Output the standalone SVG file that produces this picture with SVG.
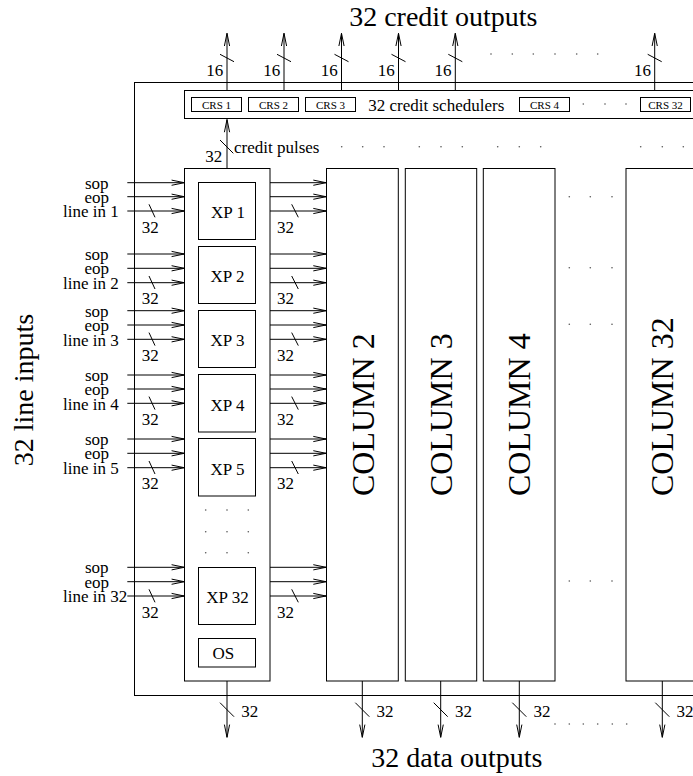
<svg xmlns="http://www.w3.org/2000/svg" width="693" height="776" viewBox="0 0 693 776" font-family="Liberation Serif, Tinos, DejaVu Serif, serif">
<style>
.box{fill:none;stroke:#000;stroke-width:1}
.ln{fill:none;stroke:#000;stroke-width:1}
.arr{fill:none;stroke:#000;stroke-width:1;marker-end:url(#ah)}
text{font-family:'Liberation Serif','DejaVu Serif',serif;fill:#000}
.big{font-size:28px}
.col{font-size:32px}
.med{font-size:17px}
.sm{font-size:11px}
.dot{fill:#555}
</style>
<defs>
<marker id="ah" markerUnits="userSpaceOnUse" viewBox="-14 -4 15 8" refX="0" refY="0" markerWidth="15" markerHeight="8" orient="auto" overflow="visible">
<path d="M-12.7,-2.6 L0,0 L-12.7,2.6" fill="none" stroke="#000" stroke-width="1"/>
</marker>
</defs>
<rect width="693" height="776" fill="#fff"/>

<g id="switch">
<rect class="box" x="134.5" y="82.5" width="620" height="613"/>
</g>

<g id="credit-schedulers">
<rect class="box" x="184.5" y="90.5" width="560" height="28"/>
<text class="med" x="368.3" y="110.7">32 credit schedulers</text>
</g>
<g id="crs1"><rect class="box" x="191.5" y="97.5" width="50" height="14"/><text class="sm" x="216.5" y="108.5" text-anchor="middle">CRS 1</text></g>
<g id="crs2"><rect class="box" x="248.5" y="97.5" width="50" height="14"/><text class="sm" x="273.5" y="108.5" text-anchor="middle">CRS 2</text></g>
<g id="crs3"><rect class="box" x="305.5" y="97.5" width="50" height="14"/><text class="sm" x="330.5" y="108.5" text-anchor="middle">CRS 3</text></g>
<g id="crs4"><rect class="box" x="519.5" y="97.5" width="50" height="14"/><text class="sm" x="544.5" y="108.5" text-anchor="middle">CRS 4</text></g>
<g id="crs32"><rect class="box" x="640.5" y="97.5" width="50" height="14"/><text class="sm" x="665.5" y="108.5" text-anchor="middle">CRS 32</text></g>

<g id="xp-column">
<rect class="box" x="184.5" y="168.5" width="85.5" height="512.5"/>
</g>
<g id="xp1"><rect class="box" x="198.5" y="182.5" width="57" height="57"/><text class="med" x="228" y="218" text-anchor="middle">XP 1</text></g>
<g id="xp2"><rect class="box" x="198.5" y="246.5" width="57" height="57"/><text class="med" x="227.5" y="282" text-anchor="middle">XP 2</text></g>
<g id="xp3"><rect class="box" x="198.5" y="310.5" width="57" height="57"/><text class="med" x="227.5" y="346.3" text-anchor="middle">XP 3</text></g>
<g id="xp4"><rect class="box" x="198.5" y="374.5" width="57" height="57.5"/><text class="med" x="227.5" y="410.5" text-anchor="middle">XP 4</text></g>
<g id="xp5"><rect class="box" x="198.5" y="438.5" width="57" height="57.5"/><text class="med" x="227.5" y="474.5" text-anchor="middle">XP 5</text></g>
<g id="xp32"><rect class="box" x="198.5" y="567.5" width="57" height="57"/><text class="med" x="227.5" y="603" text-anchor="middle">XP 32</text></g>
<g id="os"><rect class="box" x="198.5" y="638.5" width="57" height="28.5"/><text class="med" x="223.3" y="659.3" text-anchor="middle">OS</text></g>

<g id="column2"><rect class="box" x="326.5" y="168.5" width="71.8" height="512.5"/><text class="col" transform="translate(373.5,496) rotate(-90)">COLUMN 2</text></g>
<g id="column3"><rect class="box" x="405.3" y="168.5" width="71.4" height="512.5"/><text class="col" transform="translate(452,496) rotate(-90)">COLUMN 3</text></g>
<g id="column4"><rect class="box" x="483.3" y="168.5" width="71.7" height="512.5"/><text class="col" transform="translate(530.2,496) rotate(-90)">COLUMN 4</text></g>
<g id="column32"><rect class="box" x="626" y="168.5" width="72.6" height="512.5"/><text class="col" transform="translate(673.3,496) rotate(-90)">COLUMN 32</text></g>

<g id="connectors">
<line class="arr" x1="227" y1="90" x2="227" y2="33.3"/>
<line class="arr" x1="284" y1="90" x2="284" y2="33.3"/>
<line class="arr" x1="341.5" y1="90" x2="341.5" y2="33.3"/>
<line class="arr" x1="398.5" y1="90" x2="398.5" y2="33.3"/>
<line class="arr" x1="455.3" y1="90" x2="455.3" y2="33.3"/>
<line class="arr" x1="654.7" y1="90" x2="654.7" y2="33.3"/>
<path class="ln" d="M220,54.3L234,61.7M277,54.3L291,61.7M334.5,54.3L348.5,61.7M391.5,54.3L405.5,61.7M448.3,54.3L462.3,61.7M647.7,54.3L661.7,61.7"/>
<line class="arr" x1="227" y1="168.3" x2="227" y2="119.5"/>
<path class="ln" d="M220,140L233.3,153.3"/>
<g>
<line class="arr" x1="127.3" y1="182.7" x2="184.3" y2="182.7"/>
<line class="arr" x1="127.3" y1="196.7" x2="184.3" y2="196.7"/>
<line class="arr" x1="127.3" y1="211" x2="184.3" y2="211"/>
<line class="arr" x1="127.3" y1="254" x2="184.3" y2="254"/>
<line class="arr" x1="127.3" y1="268.3" x2="184.3" y2="268.3"/>
<line class="arr" x1="127.3" y1="282.7" x2="184.3" y2="282.7"/>
<line class="arr" x1="127.3" y1="310.7" x2="184.3" y2="310.7"/>
<line class="arr" x1="127.3" y1="325" x2="184.3" y2="325"/>
<line class="arr" x1="127.3" y1="339.3" x2="184.3" y2="339.3"/>
<line class="arr" x1="127.3" y1="375" x2="184.3" y2="375"/>
<line class="arr" x1="127.3" y1="389" x2="184.3" y2="389"/>
<line class="arr" x1="127.3" y1="403.3" x2="184.3" y2="403.3"/>
<line class="arr" x1="127.3" y1="439" x2="184.3" y2="439"/>
<line class="arr" x1="127.3" y1="453.3" x2="184.3" y2="453.3"/>
<line class="arr" x1="127.3" y1="467.7" x2="184.3" y2="467.7"/>
<line class="arr" x1="127.3" y1="567.3" x2="184.3" y2="567.3"/>
<line class="arr" x1="127.3" y1="581.7" x2="184.3" y2="581.7"/>
<line class="arr" x1="127.3" y1="596" x2="184.3" y2="596"/>
<path class="ln" d="M149,204.3L155,217.3M149,276L155,289M149,332.6L155,345.6M149,396.6L155,409.6M149,461L155,474M149,589.3L155,602.3"/>
</g>
<g>
<line class="arr" x1="270" y1="182.7" x2="326" y2="182.7"/>
<line class="arr" x1="270" y1="196.7" x2="326" y2="196.7"/>
<line class="arr" x1="270" y1="211" x2="326" y2="211"/>
<line class="arr" x1="270" y1="254" x2="326" y2="254"/>
<line class="arr" x1="270" y1="268.3" x2="326" y2="268.3"/>
<line class="arr" x1="270" y1="282.7" x2="326" y2="282.7"/>
<line class="arr" x1="270" y1="310.7" x2="326" y2="310.7"/>
<line class="arr" x1="270" y1="325" x2="326" y2="325"/>
<line class="arr" x1="270" y1="339.3" x2="326" y2="339.3"/>
<line class="arr" x1="270" y1="375" x2="326" y2="375"/>
<line class="arr" x1="270" y1="389" x2="326" y2="389"/>
<line class="arr" x1="270" y1="403.3" x2="326" y2="403.3"/>
<line class="arr" x1="270" y1="439" x2="326" y2="439"/>
<line class="arr" x1="270" y1="453.3" x2="326" y2="453.3"/>
<line class="arr" x1="270" y1="467.7" x2="326" y2="467.7"/>
<line class="arr" x1="270" y1="567.3" x2="326" y2="567.3"/>
<line class="arr" x1="270" y1="581.7" x2="326" y2="581.7"/>
<line class="arr" x1="270" y1="596" x2="326" y2="596"/>
<path class="ln" d="M291.7,204.3L298.3,217.3M291.7,276L298.3,289M291.7,332.6L298.3,345.6M291.7,396.6L298.3,409.6M291.7,461L298.3,474M291.7,589.3L298.3,602.3"/>
</g>
<line class="arr" x1="227" y1="681" x2="227" y2="737.3"/>
<line class="arr" x1="362.3" y1="681" x2="362.3" y2="737.3"/>
<line class="arr" x1="440.7" y1="681" x2="440.7" y2="737.3"/>
<line class="arr" x1="519.3" y1="681" x2="519.3" y2="737.3"/>
<line class="arr" x1="662.3" y1="681" x2="662.3" y2="737.3"/>
<path class="ln" d="M220,702.7L234,716.7M355.3,702.7L369.3,716.7M433.7,702.7L447.7,716.7M512.3,702.7L526.3,716.7M655.3,702.7L669.3,716.7"/>
</g>

<g id="labels">
<text class="big" x="443.3" y="26" text-anchor="middle">32 credit outputs</text>
<text class="big" x="456.8" y="766.7" text-anchor="middle">32 data outputs</text>
<text class="big" transform="translate(33,390) rotate(-90)" text-anchor="middle">32 line inputs</text>
<g class="med">
<text x="223.3" y="76" text-anchor="end">16</text>
<text x="280.3" y="76" text-anchor="end">16</text>
<text x="337.8" y="76" text-anchor="end">16</text>
<text x="394.8" y="76" text-anchor="end">16</text>
<text x="451.6" y="76" text-anchor="end">16</text>
<text x="651" y="76" text-anchor="end">16</text>
<text x="222.3" y="161.7" text-anchor="end">32</text>
<text x="234" y="153.3">credit pulses</text>
<text x="96.7" y="188.7" text-anchor="middle">sop</text>
<text x="96.7" y="202.7" text-anchor="middle">eop</text>
<text x="63" y="217.3">line in 1</text>
<text x="96.7" y="260" text-anchor="middle">sop</text>
<text x="96.7" y="274.3" text-anchor="middle">eop</text>
<text x="63" y="289">line in 2</text>
<text x="96.7" y="316.7" text-anchor="middle">sop</text>
<text x="96.7" y="331" text-anchor="middle">eop</text>
<text x="63" y="345.6">line in 3</text>
<text x="96.7" y="381" text-anchor="middle">sop</text>
<text x="96.7" y="395" text-anchor="middle">eop</text>
<text x="63" y="409.6">line in 4</text>
<text x="96.7" y="445" text-anchor="middle">sop</text>
<text x="96.7" y="459.3" text-anchor="middle">eop</text>
<text x="63" y="474">line in 5</text>
<text x="96.7" y="573.3" text-anchor="middle">sop</text>
<text x="96.7" y="587.7" text-anchor="middle">eop</text>
<text x="63" y="602.3">line in 32</text>
<text x="141.7" y="232.7">32</text>
<text x="141.7" y="304.4">32</text>
<text x="141.7" y="361">32</text>
<text x="141.7" y="425">32</text>
<text x="141.7" y="489.4">32</text>
<text x="141.7" y="617.7">32</text>
<text x="277" y="232.7">32</text>
<text x="277" y="304.4">32</text>
<text x="277" y="361">32</text>
<text x="277" y="425">32</text>
<text x="277" y="489.4">32</text>
<text x="277" y="617.7">32</text>
<text x="241.3" y="716.7">32</text>
<text x="376.6" y="716.7">32</text>
<text x="455" y="716.7">32</text>
<text x="533.6" y="716.7">32</text>
<text x="676.6" y="716.7">32</text>
</g>
</g>

<g id="ellipses">
<circle class="dot" cx="491" cy="54" r="0.8"/><circle class="dot" cx="512.3" cy="54" r="0.8"/><circle class="dot" cx="533.3" cy="54" r="0.8"/><circle class="dot" cx="555" cy="54" r="0.8"/><circle class="dot" cx="576.7" cy="54" r="0.8"/><circle class="dot" cx="597.7" cy="54" r="0.8"/>
<circle class="dot" cx="583.3" cy="104" r="0.8"/><circle class="dot" cx="605" cy="104" r="0.8"/><circle class="dot" cx="626" cy="104" r="0.8"/>
<circle class="dot" cx="341.7" cy="146.7" r="0.8"/><circle class="dot" cx="362.7" cy="146.7" r="0.8"/><circle class="dot" cx="384" cy="146.7" r="0.8"/>
<circle class="dot" cx="419.3" cy="146.7" r="0.8"/><circle class="dot" cx="441" cy="146.7" r="0.8"/><circle class="dot" cx="462.3" cy="146.7" r="0.8"/>
<circle class="dot" cx="497.7" cy="146.7" r="0.8"/><circle class="dot" cx="519.3" cy="146.7" r="0.8"/><circle class="dot" cx="540.7" cy="146.7" r="0.8"/>
<circle class="dot" cx="640.7" cy="146.7" r="0.8"/><circle class="dot" cx="662.3" cy="146.7" r="0.8"/><circle class="dot" cx="683.3" cy="146.7" r="0.8"/>
<circle class="dot" cx="569.3" cy="196.7" r="0.8"/><circle class="dot" cx="590.3" cy="196.7" r="0.8"/><circle class="dot" cx="612" cy="196.7" r="0.8"/>
<circle class="dot" cx="569.3" cy="267.7" r="0.8"/><circle class="dot" cx="590.3" cy="267.7" r="0.8"/><circle class="dot" cx="612" cy="267.7" r="0.8"/>
<circle class="dot" cx="569.3" cy="324.3" r="0.8"/><circle class="dot" cx="590.3" cy="324.3" r="0.8"/><circle class="dot" cx="612" cy="324.3" r="0.8"/>
<circle class="dot" cx="569.3" cy="581" r="0.8"/><circle class="dot" cx="590.3" cy="581" r="0.8"/><circle class="dot" cx="612" cy="581" r="0.8"/>
<circle class="dot" cx="205.7" cy="510" r="0.8"/><circle class="dot" cx="227" cy="510" r="0.8"/><circle class="dot" cx="248.3" cy="510" r="0.8"/>
<circle class="dot" cx="205.7" cy="531.7" r="0.8"/><circle class="dot" cx="227" cy="531.7" r="0.8"/><circle class="dot" cx="248.3" cy="531.7" r="0.8"/>
<circle class="dot" cx="205.7" cy="552.7" r="0.8"/><circle class="dot" cx="227" cy="552.7" r="0.8"/><circle class="dot" cx="248.3" cy="552.7" r="0.8"/>
<circle class="dot" cx="555" cy="724" r="0.8"/><circle class="dot" cx="569.3" cy="724" r="0.8"/><circle class="dot" cx="583.3" cy="724" r="0.8"/><circle class="dot" cx="597.7" cy="724" r="0.8"/><circle class="dot" cx="612.3" cy="724" r="0.8"/><circle class="dot" cx="626.7" cy="724" r="0.8"/>
</g>
</svg>
